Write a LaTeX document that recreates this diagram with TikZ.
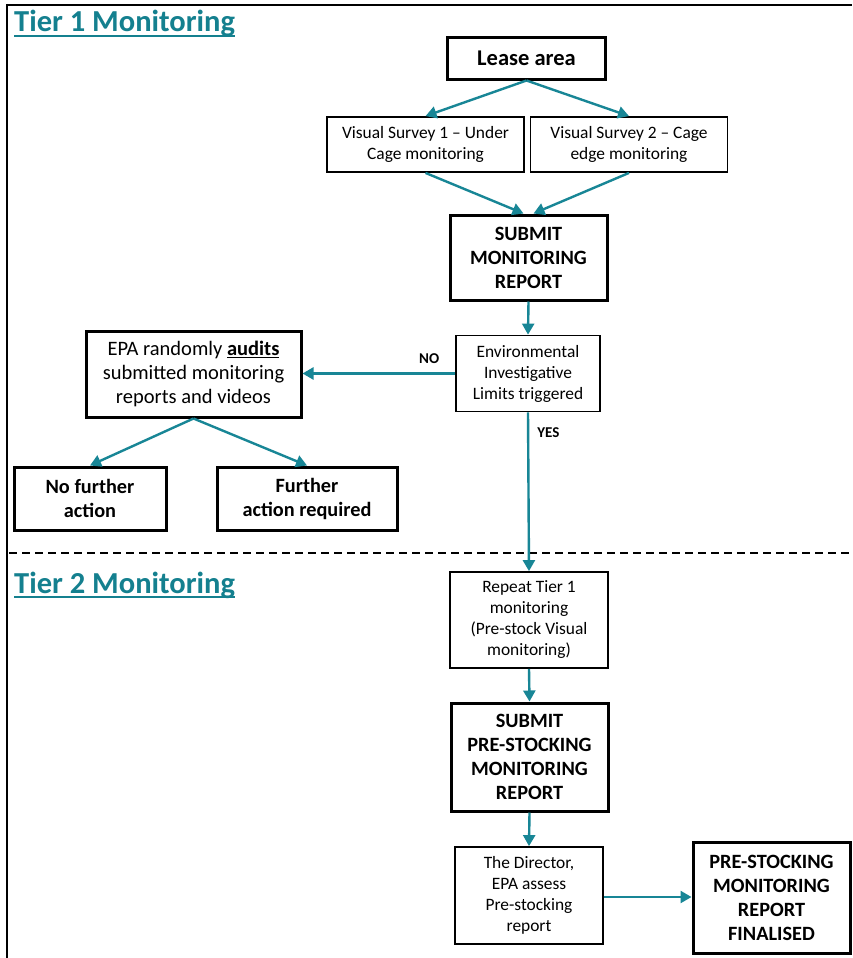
\documentclass[tikz,border=0pt]{standalone}
\usepackage{fontspec}
\setmainfont{Carlito}
\usetikzlibrary{arrows.meta}
\definecolor{teal1}{RGB}{24,134,150}
\definecolor{tealtitle}{RGB}{20,128,143}
\begin{document}
\begin{tikzpicture}[x=1pt,y=-1pt,
  box/.style={draw=black,line width=1.8pt,align=center,inner sep=2pt,text=black},
  heavy/.style={box,line width=3pt},
  flow/.style={draw=teal1,line width=2.4pt,-{Triangle[length=11pt,width=12pt]}},
  small/.style={font=\fontsize{17.4}{21}\selectfont},
  mid/.style={font=\fontsize{20.5}{24}\selectfont},
  bmid/.style={font=\fontsize{20.3}{24}\selectfont\bfseries},
  big/.style={font=\fontsize{22.5}{26}\selectfont\bfseries},
  tier/.style={font=\fontsize{30.5}{34}\selectfont\bfseries,text=tealtitle,inner sep=0pt,anchor=base west},
  lab/.style={font=\fontsize{15}{17}\selectfont\bfseries,inner sep=0pt}]
\useasboundingbox (0,0) rectangle (852,958);
\fill[white] (0,0) rectangle (852,958);
% frame edges and tier separator
\draw[line width=2.6pt] (7,5) -- (852,5);
\draw[line width=2.6pt] (7,4) -- (7,958);
\draw[line width=2pt,dash pattern=on 8pt off 5pt] (9,553) -- (852,553);

% section titles
\node[tier] (t1) at (14,32) {Tier 1 Monitoring};
\draw[tealtitle,line width=1.8pt] ([yshift=-4pt]t1.base west) -- ([yshift=-4pt]t1.base east);
\node[tier] (t2) at (14,593) {Tier 2 Monitoring};
\draw[tealtitle,line width=1.8pt] ([yshift=-4pt]t2.base west) -- ([yshift=-4pt]t2.base east);

% Tier 1 nodes
\node[heavy,big,minimum width=158pt,minimum height=41pt] (lease) at (526.5,58.5) {Lease area};
\node[box,small,minimum width=197pt,minimum height=55pt] (vs1) at (425.5,144.5) {Visual Survey 1 – Under\\Cage monitoring};
\node[box,small,minimum width=197pt,minimum height=55pt] (vs2) at (629,144.5) {Visual Survey 2 – Cage\\edge monitoring};
\node[heavy,bmid,minimum width=157pt,minimum height=85pt] (smr) at (528.5,257.5) {SUBMIT\\MONITORING\\REPORT};
\node[box,small,minimum width=144pt,minimum height=76pt] (eil) at (528,373.5) {Environmental\\Investigative\\Limits triggered};
\node[heavy,mid,minimum width=215pt,minimum height=86pt] (epa) at (193.5,374) {EPA randomly \underline{\textbf{audits}}\\submitted monitoring\\reports and videos};
\node[heavy,bmid,minimum width=152pt,minimum height=63pt] (nfa) at (90,498.5) {No further\\action};
\node[heavy,bmid,minimum width=180pt,minimum height=63pt] (far) at (307,498.5) {Further\\action required};

% Tier 2 nodes
\node[box,small,minimum width=158pt,minimum height=96pt] (rep) at (529,620) {Repeat Tier 1\\monitoring\\(Pre-stock Visual\\monitoring)};
\node[heavy,bmid,minimum width=157pt,minimum height=108pt] (spr) at (529.5,757) {SUBMIT\\PRE-STOCKING\\MONITORING\\REPORT};
\node[box,small,minimum width=148pt,minimum height=97pt] (dir) at (529,895.5) {The Director,\\EPA assess\\Pre-stocking\\report};
\node[heavy,bmid,minimum width=157pt,minimum height=111pt] (fin) at (771.5,897.5) {PRE-STOCKING\\MONITORING\\REPORT\\FINALISED};

% connectors
\draw[flow] (lease.south) -- (vs1.north);
\draw[flow] (lease.south) -- (vs2.north);
\draw[flow] (vs1.south) -- ([xshift=-5pt]smr.north);
\draw[flow] (vs2.south) -- ([xshift=5pt]smr.north);
\draw[flow] (smr.south) -- (eil.north);
\draw[flow] (eil.west) -- node[lab,pos=0.17,above=9pt] (no) {NO} (eil.west -| epa.east);
\draw[flow] (epa.south) -- (nfa.north);
\draw[flow] (epa.south) -- (far.north);
\draw[flow] (eil.south) -- node[lab,pos=0.13,right=8pt] (yes) {YES} (rep.north);
\draw[flow] (rep.south) -- (spr.north);
\draw[flow] (spr.south) -- (dir.north);
\draw[flow] ([yshift=-1.5pt]dir.east) -- ([yshift=-1.5pt]dir.east -| fin.west);
\end{tikzpicture}
\end{document}
